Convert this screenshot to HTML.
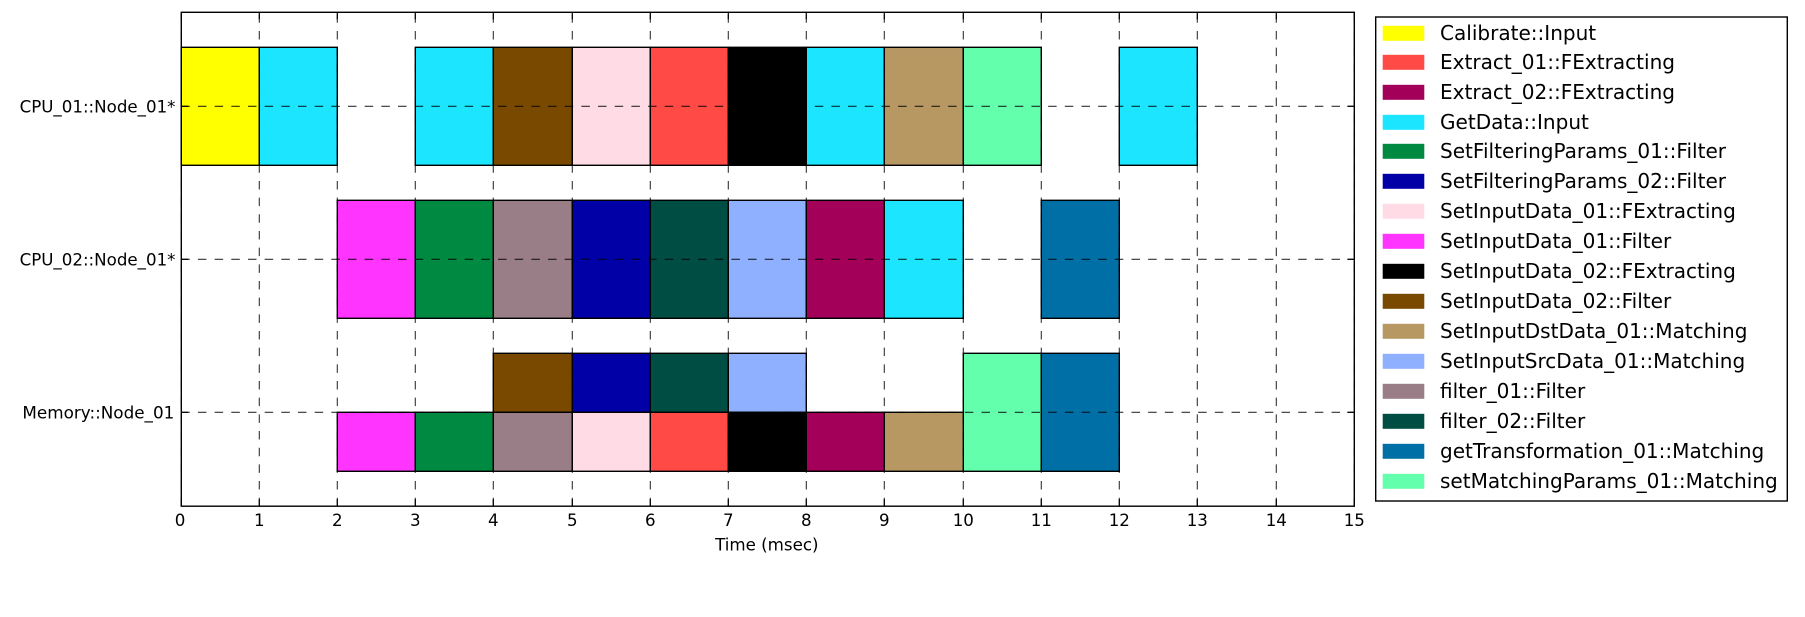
<!DOCTYPE html>
<html lang="en">
<head>
<meta charset="utf-8">
<title>Gantt chart of task execution on resources</title>
<style>
  html, body { margin: 0; padding: 0; background: #ffffff; }
  body { width: 1805px; height: 617px; overflow: hidden; }
  svg { display: block; font-family: "DejaVu Sans", "Liberation Sans", sans-serif; }
  text { fill: #000000; }
</style>
</head>
<body>
<svg id="chart" xmlns="http://www.w3.org/2000/svg" width="1805" height="617" viewBox="0 0 1805 617"></svg>
<script>
// ---- Data ----
const taskNames = [
  "Calibrate::Input", "Extract_01::FExtracting", "Extract_02::FExtracting", "GetData::Input",
  "SetFilteringParams_01::Filter", "SetFilteringParams_02::Filter", "SetInputData_01::FExtracting",
  "SetInputData_01::Filter", "SetInputData_02::FExtracting", "SetInputData_02::Filter",
  "SetInputDstData_01::Matching", "SetInputSrcData_01::Matching", "filter_01::Filter",
  "filter_02::Filter", "getTransformation_01::Matching", "setMatchingParams_01::Matching"
];
const resourceNames = ["CPU_01::Node_01*", "CPU_02::Node_01*", "Memory::Node_01"];
const xTickValues = [0, 1, 2, 3, 4, 5, 6, 7, 8, 9, 10, 11, 12, 13, 14, 15];
const xAxisTitle = "Time (msec)";

// One entry per bar, all parallel arrays
const barTask = [
  "Calibrate::Input", "GetData::Input", "GetData::Input", "SetInputData_02::Filter",
  "SetInputData_01::FExtracting", "Extract_01::FExtracting", "SetInputData_02::FExtracting",
  "GetData::Input", "SetInputDstData_01::Matching", "setMatchingParams_01::Matching", "GetData::Input",

  "SetInputData_01::Filter", "SetFilteringParams_01::Filter", "filter_01::Filter",
  "SetFilteringParams_02::Filter", "filter_02::Filter", "SetInputSrcData_01::Matching",
  "Extract_02::FExtracting", "GetData::Input", "getTransformation_01::Matching",

  "SetInputData_02::Filter", "SetFilteringParams_02::Filter", "filter_02::Filter",
  "SetInputSrcData_01::Matching", "setMatchingParams_01::Matching", "getTransformation_01::Matching",

  "SetInputData_01::Filter", "SetFilteringParams_01::Filter", "filter_01::Filter",
  "SetInputData_01::FExtracting", "Extract_01::FExtracting", "SetInputData_02::FExtracting",
  "Extract_02::FExtracting", "SetInputDstData_01::Matching"
];
const barResource = [
  0, 0, 0, 0, 0, 0, 0, 0, 0, 0, 0,
  1, 1, 1, 1, 1, 1, 1, 1, 1,
  2, 2, 2, 2, 2, 2,
  2, 2, 2, 2, 2, 2, 2, 2
];
const barStart = [
  0, 1, 3, 4, 5, 6, 7, 8, 9, 10, 12,
  2, 3, 4, 5, 6, 7, 8, 9, 11,
  4, 5, 6, 7, 10, 11,
  2, 3, 4, 5, 6, 7, 8, 9
];
const barDuration = [
  1, 1, 1, 1, 1, 1, 1, 1, 1, 1, 1,
  1, 1, 1, 1, 1, 1, 1, 1, 1,
  1, 1, 1, 1, 1, 1,
  1, 1, 1, 1, 1, 1, 1, 1
];
// Vertical extent of each bar in row units, relative to its resource's centre line
const barLaneLow = [
  -0.3856, -0.3856, -0.3856, -0.3856, -0.3856, -0.3856, -0.3856, -0.3856, -0.3856, -0.3856, -0.3856,
  -0.3856, -0.3856, -0.3856, -0.3856, -0.3856, -0.3856, -0.3856, -0.3856, -0.3856,
  -0.3856, -0.3856, -0.3856, -0.3856, -0.3856, -0.3856,
  0, 0, 0, 0, 0, 0, 0, 0
];
const barLaneHigh = [
  0.3856, 0.3856, 0.3856, 0.3856, 0.3856, 0.3856, 0.3856, 0.3856, 0.3856, 0.3856, 0.3856,
  0.3856, 0.3856, 0.3856, 0.3856, 0.3856, 0.3856, 0.3856, 0.3856, 0.3856,
  0, 0, 0, 0, 0.3856, 0.3856,
  0.3856, 0.3856, 0.3856, 0.3856, 0.3856, 0.3856, 0.3856, 0.3856
];

// ---- Styles ----
const taskColors = {
  "Calibrate::Input": "#FFFF00",
  "Extract_01::FExtracting": "#FF4A46",
  "Extract_02::FExtracting": "#A30059",
  "GetData::Input": "#1CE6FF",
  "SetFilteringParams_01::Filter": "#008941",
  "SetFilteringParams_02::Filter": "#0000A6",
  "SetInputData_01::FExtracting": "#FFDBE5",
  "SetInputData_01::Filter": "#FF34FF",
  "SetInputData_02::FExtracting": "#000000",
  "SetInputData_02::Filter": "#7A4900",
  "SetInputDstData_01::Matching": "#B79762",
  "SetInputSrcData_01::Matching": "#8FB0FF",
  "filter_01::Filter": "#997D87",
  "filter_02::Filter": "#004D43",
  "getTransformation_01::Matching": "#006FA6",
  "setMatchingParams_01::Matching": "#63FFAC"
};

// ---- Layout ----
const plot = { left: 181.3, right: 1354.3, top: 12.3, bottom: 506.2 };
const xOrigin = 181, xPerUnit = 78.22, xMin = 0;
const rowTopCentre = 106.3, rowStep = 153;
const legendBox = { left: 1375.7, right: 1787.3, top: 17, bottom: 501 };

// Pixel-snapped axis, like the source raster
const xScale = v => Math.floor(xOrigin + (v - xMin) * xPerUnit) + 0.3;
const yScale = r => rowTopCentre + r * rowStep;
// Legend rows are 30px apart with two 1px snaps near the top
const legendY = i => 33.3 + i * 30 - (i >= 1 ? 1 : 0) - (i >= 4 ? 1 : 0);

const NS = "http://www.w3.org/2000/svg";
const svg = document.getElementById("chart");
function make(tag, attrs, parent, content) {
  const el = document.createElementNS(NS, tag);
  for (const k in attrs) el.setAttribute(k, attrs[k]);
  if (content !== undefined) el.textContent = content;
  parent.appendChild(el);
  return el;
}
const slug = s => s.toLowerCase().replace(/[^a-z0-9]+/g, "-").replace(/^-|-$/g, "");

// Background of plot
const plotBg = make("rect", { x: plot.left, y: plot.top, width: plot.right - plot.left, height: plot.bottom - plot.top, fill: "#ffffff" }, svg);



// Bars
const barLayer = make("g", {}, svg);


barTask.forEach((task, i) => {
  const centre = barResource[i];
  const x0 = xScale(barStart[i]);
  const x1 = xScale(barStart[i] + barDuration[i]);
  const y0 = yScale(centre + barLaneLow[i]);
  const y1 = yScale(centre + barLaneHigh[i]);
  const bar = make("rect", { x: x0, y: y0, width: x1 - x0, height: y1 - y0, fill: taskColors[task], stroke: "#000000", "stroke-width": 1.4 }, barLayer);
  
  
});

// Grid, drawn over the bars
const gridLayer = make("g", { stroke: "#000000", "stroke-width": 1.1, "stroke-dasharray": "8.5 8.17", fill: "none", opacity: 0.8 }, svg);


xTickValues.forEach(v => {
  const g = make("line", { x1: xScale(v), x2: xScale(v), y1: plot.bottom, y2: plot.top }, gridLayer);
  
  
});
resourceNames.forEach((name, r) => {
  const g = make("line", { x1: plot.left, x2: plot.right, y1: yScale(r), y2: yScale(r) }, gridLayer);
  
  
});

// Tick marks (inward on all four sides)
const tickLayer = make("g", { stroke: "#000000", "stroke-width": 1.2 }, svg);


xTickValues.forEach(v => {
  make("line", { x1: xScale(v), x2: xScale(v), y1: plot.bottom, y2: plot.bottom - 7 }, tickLayer);
  make("line", { x1: xScale(v), x2: xScale(v), y1: plot.top, y2: plot.top + 7 }, tickLayer);
});
resourceNames.forEach((name, r) => {
  make("line", { x1: plot.left, x2: plot.left + 7, y1: yScale(r), y2: yScale(r) }, tickLayer);
  make("line", { x1: plot.right, x2: plot.right - 7, y1: yScale(r), y2: yScale(r) }, tickLayer);
});

// Spines
const frame = make("rect", { x: plot.left, y: plot.top, width: plot.right - plot.left, height: plot.bottom - plot.top, fill: "none", stroke: "#000000", "stroke-width": 1.4 }, svg);



// Tick labels
xTickValues.forEach((v, i) => {
  const t = make("text", { x: xScale(v) - (i === 0 ? 1.2 : 0), y: 526, "text-anchor": "middle", "font-size": 16.67 }, svg, String(v));
  
  
});
resourceNames.forEach((name, r) => {
  const t = make("text", { x: name.endsWith("*") ? 175.5 : 174.3, y: yScale(r) + 6, "text-anchor": "end", "font-size": name.endsWith("*") ? 16.67 : 16.8 }, svg, name);
  
  
});

// Axis title
const xTitle = make("text", { x: (plot.left + plot.right) / 2 - 1, y: 550.5, "text-anchor": "middle", "font-size": 16.67 }, svg, xAxisTitle);



// Legend
const legend = make("g", {}, svg);


const legendFrame = make("rect", { x: legendBox.left, y: legendBox.top, width: legendBox.right - legendBox.left, height: legendBox.bottom - legendBox.top, fill: "#ffffff", stroke: "#000000", "stroke-width": 1.4 }, legend);


taskNames.forEach((name, i) => {
  const cy = legendY(i);
  const entry = make("g", {}, legend);
  
  
  const swatch = make("rect", { x: 1382.7, y: cy - 7.5, width: 41.6, height: 15, fill: taskColors[name] }, entry);
  
  
  const label = make("text", { x: 1440, y: cy + 6.8, "font-size": 20.05 }, entry, name);
  
  
});
</script>
</body>
</html>
